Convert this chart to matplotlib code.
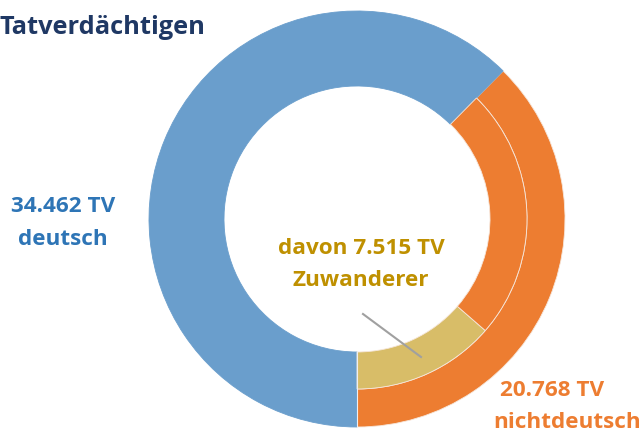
import matplotlib
matplotlib.use("Agg")
import matplotlib.pyplot as plt

# Data
outer_labels = ["nichtdeutsch", "deutsch"]
outer_values = [20768, 34462]
inner_labels = ["Zuwanderer", "nichtdeutsch (ohne Zuwanderer)", "deutsch"]
inner_values = [7515, 20768 - 7515, 34462]

c_blue = "#6A9ECC"
c_orange = "#ED7D31"
c_yellow = "#D8BD68"

fig = plt.figure(figsize=(6.41, 4.36), dpi=100)
ax = fig.add_axes([0, 0, 1, 1])

cx, cy = 357, 436 - 219
r_out, r_mid, r_in = 208, 170, 133

w_outer, _ = ax.pie(outer_values, colors=[c_orange, c_blue], radius=r_out,
                    center=(cx, cy), startangle=-90, counterclock=True,
                    wedgeprops=dict(width=r_out - r_mid, edgecolor="#F6E6DA", linewidth=0.6))
w_outer[1].set_width(r_out - r_in)
w_outer[1].set_edgecolor(c_blue)

w_inner, _ = ax.pie(inner_values, colors=[c_yellow, c_orange, c_blue], radius=r_mid,
                    center=(cx, cy), startangle=-90, counterclock=True,
                    wedgeprops=dict(width=r_mid - r_in, edgecolor="#F6E6DA", linewidth=0.6))
w_inner[2].set_visible(False)

ax.plot([cx, cx], [cy - r_in, cy - r_out], color="#EDEFF2", lw=0.8)

ax.set_xlim(0, 641)
ax.set_ylim(0, 436)
ax.set_aspect("equal")
ax.axis("off")

ax.plot([363, 421], [436 - 314, 436 - 357], color="#A0A0A0", lw=1.5)

font = ["Open Sans", "DejaVu Sans"]
fs = 16.2
ax.text(0, 436 - 28, "Tatverdächtigen", ha="left", va="center", fontsize=18.3,
        fontweight="bold", color="#1F3864", family=font)

ax.text(63, 436 - 207, "34.462 TV", ha="center", va="center", fontsize=fs,
        fontweight="bold", color="#2E75B6", family=font)
ax.text(63, 436 - 240, "deutsch", ha="center", va="center", fontsize=fs,
        fontweight="bold", color="#2E75B6", family=font)

ax.text(361, 436 - 248, "davon 7.515 TV", ha="center", va="center", fontsize=fs,
        fontweight="bold", color="#BF9000", family=font)
ax.text(361, 436 - 281, "Zuwanderer", ha="center", va="center", fontsize=fs,
        fontweight="bold", color="#BF9000", family=font)

ax.text(552, 436 - 391, "20.768 TV", ha="center", va="center", fontsize=fs,
        fontweight="bold", color="#ED7D31", family=font)
ax.text(567, 436 - 423, "nichtdeutsch", ha="center", va="center", fontsize=fs,
        fontweight="bold", color="#ED7D31", family=font)

fig.savefig("out.png", dpi=100)
